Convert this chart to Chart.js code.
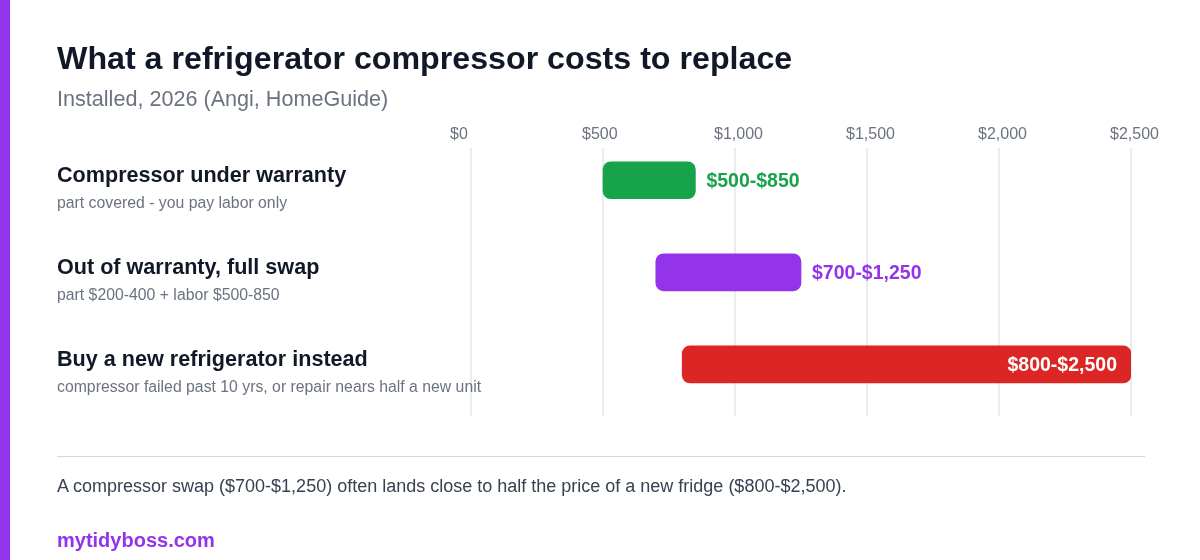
<!DOCTYPE html>
<html>
<head>
<meta charset="utf-8">
<script src="https://cdn.jsdelivr.net/npm/chart.js@4"></script>
<style>
  html, body { margin: 0; padding: 0; background: #fff; }
  body { width: 1200px; height: 560px; position: relative; overflow: hidden; font-family: 'Liberation Sans', Arial, sans-serif; }
  .stripe { position: absolute; left: 0; top: 0; width: 10px; height: 560px; background: #9333ea; }
  #chart { position: absolute; left: 0; top: 0; }
  .txt { position: absolute; left: 57px; white-space: nowrap; line-height: 1; }
  .title { top: 42px; font-size: 32.2px; font-weight: bold; color: #111827; }
  .sub { top: 88px; font-size: 21.6px; color: #6b7280; }
  .rule { position: absolute; left: 57px; top: 456px; width: 1088px; height: 1px; background: #cfd8e3; }
  .note { top: 477px; font-size: 18px; color: #374151; }
  .brand { top: 530px; font-size: 20px; font-weight: bold; color: #9333ea; }
</style>
</head>
<body>
<div class="stripe"></div>
<canvas id="chart" width="1200" height="560"></canvas>
<div class="txt title">What a refrigerator compressor costs to replace</div>
<div class="txt sub">Installed, 2026 (Angi, HomeGuide)</div>
<div class="rule"></div>
<div class="txt note">A compressor swap ($700-$1,250) often lands close to half the price of a new fridge ($800-$2,500).</div>
<div class="txt brand">mytidyboss.com</div>
<script>
// данные
const rowLabels = ['Compressor under warranty', 'Out of warranty, full swap', 'Buy a new refrigerator instead'];
const rowNotes = [
  'part covered - you pay labor only',
  'part $200-400 + labor $500-850',
  'compressor failed past 10 yrs, or repair nears half a new unit'
];
const lowCost = [500, 700, 800];
const highCost = [850, 1250, 2500];
const barColors = ['#16a34a', '#9333ea', '#dc2626'];
const axisTicks = [0, 500, 1000, 1500, 2000, 2500];

Chart.defaults.font.family = "'Liberation Sans', Arial, sans-serif";

const money = v => '$' + v.toLocaleString('en-US');

// подписи строк слева
const rowLabelPlugin = {
  id: 'rowLabels',
  afterDraw(chart) {
    const { ctx } = chart;
    const y = chart.scales.y;
    ctx.save();
    ctx.textAlign = 'left';
    ctx.textBaseline = 'alphabetic';
    rowLabels.forEach((label, i) => {
      const py = y.getPixelForValue(i);
      ctx.fillStyle = '#111827';
      ctx.font = "bold 21.6px 'Liberation Sans', Arial, sans-serif";
      ctx.fillText(label, 57, py + 1.5);
      ctx.fillStyle = '#6b7280';
      ctx.font = "15.8px 'Liberation Sans', Arial, sans-serif";
      ctx.fillText(rowNotes[i], 57, py + 27.5);
    });
    ctx.restore();
  }
};

// значения у концов полос
const valueLabelPlugin = {
  id: 'valueLabels',
  afterDatasetsDraw(chart) {
    const { ctx, chartArea } = chart;
    const meta = chart.getDatasetMeta(0);
    ctx.save();
    ctx.font = "bold 19.5px 'Liberation Sans', Arial, sans-serif";
    ctx.textBaseline = 'alphabetic';
    meta.data.forEach((bar, i) => {
      const text = money(lowCost[i]) + '-' + money(highCost[i]);
      const w = ctx.measureText(text).width;
      if (bar.x + 11 + w > chartArea.right) {
        ctx.fillStyle = '#ffffff';
        ctx.textAlign = 'right';
        ctx.fillText(text, bar.x - 14, bar.y + 7);
      } else {
        ctx.fillStyle = barColors[i];
        ctx.textAlign = 'left';
        ctx.fillText(text, bar.x + 11, bar.y + 7);
      }
    });
    ctx.restore();
  }
};

new Chart(document.getElementById('chart').getContext('2d'), {
  type: 'bar',
  data: {
    datasets: [{
      data: rowLabels.map((_, i) => ({ x: [lowCost[i], highCost[i]], y: i })),
      backgroundColor: barColors,
      borderRadius: 8,
      borderSkipped: false,
      barThickness: 37
    }]
  },
  options: {
    indexAxis: 'y',
    responsive: false,
    animation: false,
    devicePixelRatio: 1,
    layout: { padding: { left: 471, right: 69, top: 118, bottom: 144 } },
    plugins: { legend: { display: false }, tooltip: { enabled: false } },
    scales: {
      x: {
        position: 'top',
        min: 0,
        max: 2500,
        afterBuildTicks: s => { s.ticks = axisTicks.map(v => ({ value: v })); },
        afterFit: s => { s.height = 30; },
        grid: { color: '#e9edf2', lineWidth: 2, drawTicks: false },
        border: { display: false },
        ticks: {
          autoSkip: false,
          maxRotation: 0,
          align: 'start',
          labelOffset: -21,
          padding: 4,
          color: '#6b7280',
          font: { size: 16 },
          callback: v => money(v)
        }
      },
      y: {
        type: 'linear',
        display: false,
        offset: false,
        reverse: true,
        min: -0.35,
        max: 2.56
      }
    }
  },
  plugins: [rowLabelPlugin, valueLabelPlugin]
});
</script>
</body>
</html>
